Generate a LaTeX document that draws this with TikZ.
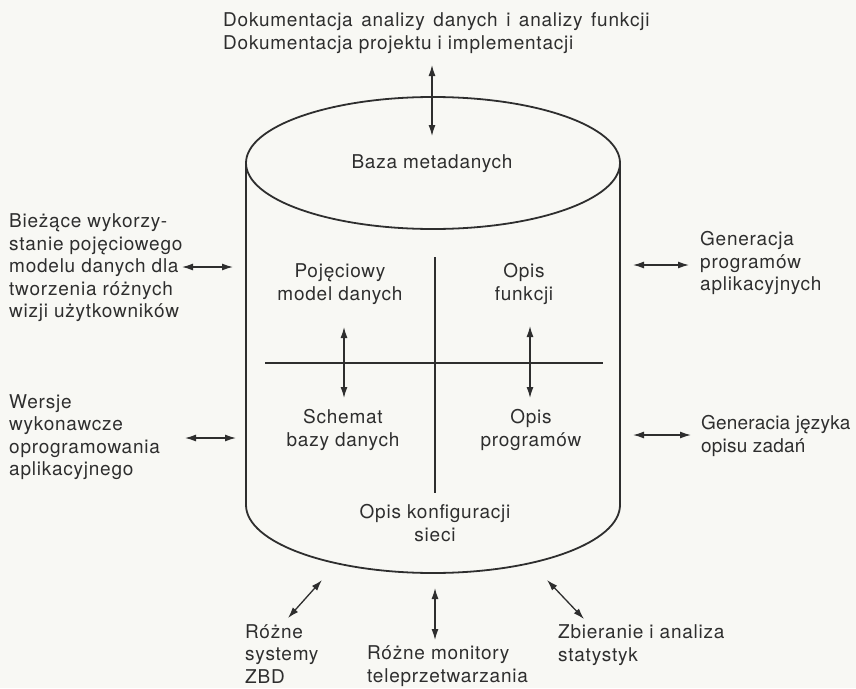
\documentclass[tikz,border=0pt]{standalone}
\usepackage{fontspec}
\setmainfont{TeX Gyre Heros}[LetterSpace=4.0]
\usetikzlibrary{arrows.meta}
\definecolor{ink}{HTML}{2E2E2E}
\definecolor{paper}{HTML}{F8F8F4}
\begin{document}
\begin{tikzpicture}[x=1pt,y=-1pt,
  lbl/.style={inner sep=0pt,text=ink,font=\fontsize{19}{22.5}\selectfont},
  lblL/.style={lbl,align=left,anchor=west},
  lblC/.style={lbl,align=center,anchor=center},
  tight/.style={font=\fontsize{19}{22.5}\selectfont\addfontfeature{LetterSpace=1.0}},
  link/.style={draw=ink,line width=1.3pt,
    {Latex[length=11pt,width=7pt]}-{Latex[length=11pt,width=7pt]}},
  outline/.style={draw=ink,line width=1.8pt},
  divider/.style={draw=ink,line width=1.2pt}]
% canvas
\fill[paper] (0,0) rectangle (856,688);
\useasboundingbox (0,0) rectangle (856,688);

% cylinder body
\path[outline] (433,163) ellipse [x radius=187, y radius=66];
\path[outline] (246,163) -- (246,505) arc [start angle=180, end angle=0, x radius=187, y radius=68] -- (620,163);

% inner dividers
\path[divider] (435,257) -- (435,493);
\path[divider] (265,363) -- (603,363);

% labels inside the cylinder
\node[lblC] (meta) at (432,164) {Baza metadanych};
\node[lblC] (pmd)  at (340,284) {Pojęciowy\\model danych};
\node[lblC] (ofun) at (524,284) {Opis\\funkcji};
\node[lblC] (sbd)  at (343,430) {Schemat\\bazy danych};
\node[lblC] (oprg) at (531,430) {Opis\\programów};
\node[lblC] (okon) at (435,523) {Opis konfiguracji\\sieci};

% labels around the cylinder
\node[lblL] (dok)  at (223,33)  {{\spaceskip=8.5pt plus 2pt\relax Dokumentacja analizy danych i analizy funkcji}\\Dokumentacja projektu i implementacji};
\node[lblL] (biez) at (9,268)   {Bieżące wykorzy-\\stanie pojęciowego\\modelu danych dla\\tworzenia różnych\\wizji użytkowników};
\node[lblL] (wers) at (9,437)   {Wersje\\wykonawcze\\oprogramowania\\aplikacyjnego};
\node[lblL] (gprg) at (700,263) {Generacja\\programów\\aplikacyjnych};
\node[lblL,tight] (gjez) at (701,436) {Generacia języka\\opisu zadań};
\node[lblL] (zbd)  at (245,654) {Różne\\systemy\\ZBD};
\node[lblL] (mon)  at (367,666) {Różne monitory\\teleprzetwarzania};
\node[lblL] (stat) at (558,645) {Zbieranie i analiza\\statystyk};

% connector end points
\coordinate (topA) at (432,65);   \coordinate (topB) at (432,136);
\coordinate (l1A) at (182,267);   \coordinate (l1B) at (233,267);
\coordinate (l2A) at (185,438);   \coordinate (l2B) at (236,438);
\coordinate (r1A) at (633,265);   \coordinate (r1B) at (689,265);
\coordinate (r2A) at (633,435);   \coordinate (r2B) at (691,435);
\coordinate (i1A) at (344,327);   \coordinate (i1B) at (344,398);
\coordinate (i2A) at (530,326);   \coordinate (i2B) at (530,398);
\coordinate (b1A) at (322,580);   \coordinate (b1B) at (288,618);
\coordinate (b2A) at (435,588);   \coordinate (b2B) at (435,640);
\coordinate (b3A) at (547,580);   \coordinate (b3B) at (584,619);

% connectors
\draw[link] (topA) -- (topB);
\draw[link] (l1A) -- (l1B);
\draw[link] (l2A) -- (l2B);
\draw[link] (r1A) -- (r1B);
\draw[link] (r2A) -- (r2B);
\draw[link] (i1A) -- (i1B);
\draw[link] (i2A) -- (i2B);
\draw[link] (b1A) -- (b1B);
\draw[link] (b2A) -- (b2B);
\draw[link] (b3A) -- (b3B);
\end{tikzpicture}
\end{document}
